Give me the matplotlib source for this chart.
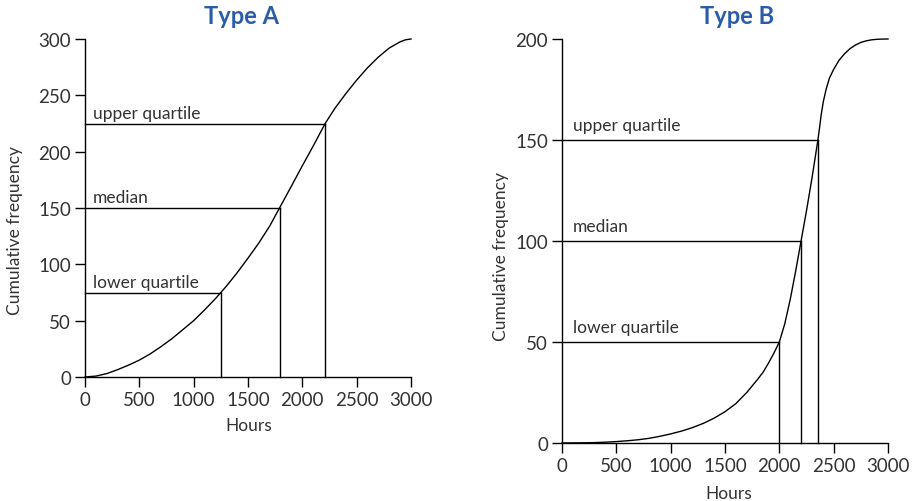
import matplotlib.pyplot as plt

plt.rcParams['font.family'] = ['Lato', 'DejaVu Sans']

# Type A curve
hours_a = [0, 100, 200, 300, 400, 500, 600, 700, 800, 900, 1000, 1100, 1200, 1250, 1300, 1400,
           1500, 1600, 1700, 1790, 1900, 2000, 2100, 2210, 2300, 2400, 2500, 2600, 2700,
           2800, 2900, 2950, 3000]
cf_a = [0, 0.8, 3, 6.5, 10.5, 15, 20.5, 27, 34, 42, 50, 59.5, 69.5, 75, 80.5, 92.5,
        105.5, 119, 134, 150, 169.5, 187.5, 205, 225, 238.5, 251.5, 263.5, 274.5, 284,
        292, 297.5, 299.3, 300]
quart_a = [1250, 1790, 2210]
quart_a_cf = [75, 150, 225]

# Type B curve
hours_b = [0, 200, 300, 400, 500, 600, 700, 800, 900, 1000, 1100, 1200, 1300, 1400, 1500,
           1600, 1700, 1800, 1850, 1900, 1950, 2000, 2050, 2100, 2150, 2200, 2250, 2300,
           2355, 2370, 2385, 2405, 2430, 2460, 2500, 2550, 2600, 2650, 2700, 2750, 2800,
           2850, 2900, 2950, 3000]
cf_b = [0, 0.1, 0.2, 0.4, 0.7, 1.1, 1.6, 2.3, 3.3, 4.5, 5.9, 7.6, 9.7, 12.3, 15.5,
        19.5, 25, 31.5, 35, 39.5, 44.5, 50, 59, 71, 85, 100, 115, 131,
        150, 156, 162.5, 169, 175, 180.5, 185, 189.5, 192.7, 195.2, 197, 198.3, 199.1,
        199.6, 199.85, 199.97, 200]
quart_b = [2000, 2200, 2355]
quart_b_cf = [50, 100, 150]

labels = ['lower quartile', 'median', 'upper quartile']
text_col = '#333333'
title_col = '#2a5ca8'

fig = plt.figure(figsize=(9.14, 5.02), dpi=100)
ax1 = fig.add_axes([85 / 914, 124 / 502, 326 / 914, 338 / 502])
ax2 = fig.add_axes([562 / 914, 58 / 502, 326 / 914, 404 / 502])


def draw(ax, hrs, cf, qx, qy, ymax, label_dx, label_dy):
    ax.plot(hrs, cf, color='black', lw=1.0, clip_on=False, solid_joinstyle='round')
    for x, y, lab in zip(qx, qy, labels):
        ax.plot([0, x], [y, y], color='black', lw=1.0, clip_on=False)
        ax.plot([x, x], [0, y], color='black', lw=1.0, clip_on=False)
        ax.annotate(lab, (label_dx, y), xytext=(0, label_dy), textcoords='offset points',
                    fontsize=12.5, color=text_col, ha='left', va='baseline')
    ax.set_xlim(0, 3000)
    ax.set_ylim(0, ymax)
    ax.set_xticks(range(0, 3001, 500))
    ax.set_yticks(range(0, ymax + 1, 50))
    for s in ['top', 'right']:
        ax.spines[s].set_visible(False)
    for s in ['left', 'bottom']:
        ax.spines[s].set_linewidth(1.0)
    ax.tick_params(length=7, width=1.0, labelsize=13.5, labelcolor=text_col, pad=3)
    ax.set_xlabel('Hours', fontsize=12.5, color=text_col)
    ax.set_ylabel('Cumulative frequency', fontsize=12.5, color=text_col)


draw(ax1, hours_a, cf_a, quart_a, quart_a_cf, 300, 70, 4)
draw(ax2, hours_b, cf_b, quart_b, quart_b_cf, 200, 100, 7.5)

ax1.xaxis.set_label_coords(0.503, -0.118)
ax1.yaxis.set_label_coords(-0.19, 0.436)
ax2.xaxis.set_label_coords(0.512, -0.104)
ax2.yaxis.set_label_coords(-0.163, 0.463)

fig.text(242 / 914, 1 - 17 / 502, 'Type A', fontsize=17, fontweight='bold',
         color=title_col, ha='center', va='center')
fig.text(737 / 914, 1 - 17 / 502, 'Type B', fontsize=17, fontweight='bold',
         color=title_col, ha='center', va='center')

fig.savefig('out.png', dpi=100)
